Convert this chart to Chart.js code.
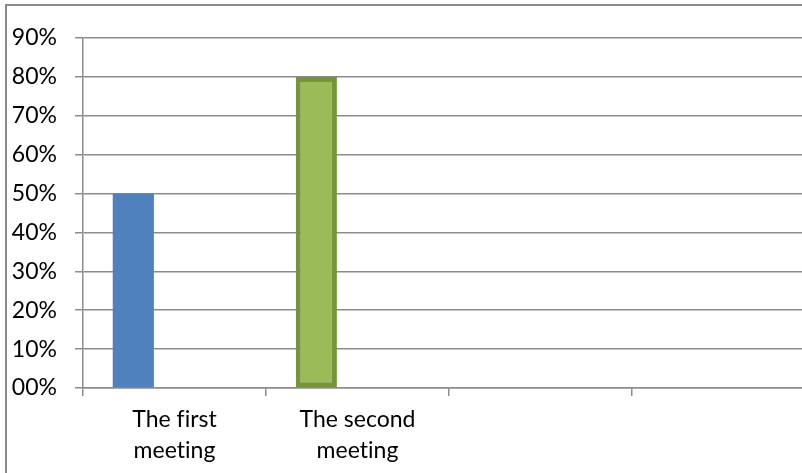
<!DOCTYPE html>
<html>
<head>
<meta charset="utf-8">
<script src="https://cdn.jsdelivr.net/npm/chart.js@4/dist/chart.umd.min.js"></script>
<style>
  html, body { margin: 0; padding: 0; background: #fff; overflow: hidden; width: 802px; height: 473px; }
  #wrap { position: absolute; left: 0; top: 0; width: 840px; height: 473px; }
  #frame { position: absolute; left: 5px; top: 4px; width: 1000px; height: 1000px;
           border-left: 2px solid #8a8a8a; border-top: 2px solid #8a8a8a; pointer-events: none; }
</style>
</head>
<body>
<div id="wrap"><canvas id="chart" width="840" height="473"></canvas></div>
<div id="frame"></div>
<script>
// chart values
const categories = [["The first", "meeting"], ["The second", "meeting"], "", ""];
const meetingValues = [0.5, 0.8, null, null];
const emptyValues = [null, null, null, null];
const yTickLabels = ["00%", "10%", "20%", "30%", "40%", "50%", "60%", "70%", "80%", "90%"];

const barColors = ["#4F81BD", "#9BBB59", "#4F81BD", "#4F81BD"];
const barBorderColors = ["#4F81BD", "#77933C", "#4F81BD", "#4F81BD"];
const barBorderWidths = [0, 5, 0, 0];

const gridColor = "#8c8c8c";
const labelFont = { family: "Lato", size: 23 };

// Lato has "fi"/"ti" ligatures, the original text has none
const noLigatures = {
  id: "noLigatures",
  beforeDraw(chart) {
    chart.ctx.letterSpacing = "0.01px";
    chart.ctx.textRendering = "optimizeSpeed";
  }
};

const ctx = document.getElementById("chart").getContext("2d");

new Chart(ctx, {
  type: "bar",
  data: {
    labels: categories,
    datasets: [
      {
        label: "Series 1",
        data: meetingValues,
        backgroundColor: barColors,
        borderColor: barBorderColors,
        borderWidth: barBorderWidths,
        borderSkipped: false
      },
      { label: "Series 2", data: emptyValues },
      { label: "Series 3", data: emptyValues }
    ]
  },
  options: {
    responsive: false,
    animation: false,
    devicePixelRatio: 1,
    categoryPercentage: 0.675,
    barPercentage: 1,
    layout: { padding: { top: 38, right: 25, left: 0, bottom: 0 } },
    plugins: {
      legend: { display: false },
      tooltip: { enabled: false },
      title: { display: false }
    },
    scales: {
      x: {
        grid: {
          display: true,
          offset: true,
          drawOnChartArea: false,
          drawTicks: true,
          tickLength: 8,
          color: gridColor,
          lineWidth: 1.5
        },
        border: { display: true, color: gridColor, width: 1.5 },
        ticks: {
          color: "#000",
          font: { ...labelFont, lineHeight: 1.35 },
          padding: 8,
          maxRotation: 0,
          autoSkip: false
        },
        afterFit: (scale) => { scale.height = 85; }
      },
      y: {
        min: 0,
        max: 0.9,
        grid: {
          color: gridColor,
          lineWidth: 1.5,
          tickLength: 8,
          drawTicks: true
        },
        border: { display: true, color: gridColor, width: 1.5 },
        ticks: {
          stepSize: 0.1,
          color: "#000",
          font: labelFont,
          padding: 18,
          callback: (value, index) => yTickLabels[index]
        },
        afterFit: (scale) => { scale.width = 83; }
      }
    }
  },
  plugins: [noLigatures]
});
</script>
</body>
</html>
